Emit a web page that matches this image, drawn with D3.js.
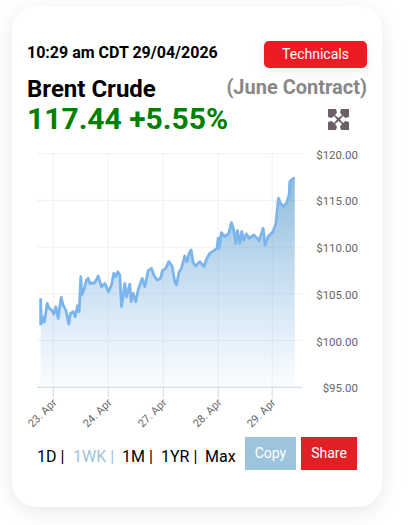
<!DOCTYPE html>
<html><head><meta charset="utf-8">
<script src="https://cdn.jsdelivr.net/npm/d3@7/dist/d3.min.js"></script>
<style>html,body{margin:0;padding:0;background:#fff;overflow:hidden}svg{display:block}text{font-family:Roboto,sans-serif}</style>
</head><body><svg id="c" width="419" height="525"></svg>
<script>
const days=[-0.23,-0.23,-0.215,-0.185,-0.16,-0.112,-0.075,-0.027,0.009,0.046,0.088,0.143,0.179,0.228,0.282,0.312,0.361,0.397,0.44,0.47,0.50,0.518,0.555,0.603,0.634,0.664,0.755,0.815,0.876,0.937,1.003,1.058,1.10,1.136,1.173,1.209,1.24,1.30,1.33,1.391,1.415,1.452,1.50,1.542,1.615,1.664,1.724,1.785,1.827,1.888,1.949,1.984,2.045,2.10,2.16,2.209,2.239,2.287,2.33,2.39,2.433,2.469,2.506,2.542,2.59,2.663,2.742,2.784,2.845,2.936,2.978,2.997,3.015,3.057,3.118,3.19,3.239,3.281,3.318,3.348,3.39,3.427,3.463,3.512,3.56,3.651,3.742,3.815,3.851,3.906,3.996,4.045,4.093,4.13,4.178,4.239,4.287,4.30,4.348,4.39];
const prices=[101.65,104.40,101.83,102.55,102.01,103.98,103.44,103.26,102.83,103.62,102.37,104.62,103.80,103.26,101.76,102.90,103.08,102.55,103.73,103.08,106.84,104.87,105.41,106.48,106.66,106.12,106.19,106.91,105.77,106.12,105.23,105.94,107.20,106.84,107.37,107.02,103.62,106.12,104.69,106.05,104.16,105.05,104.16,105.41,106.66,105.77,107.48,107.73,107.02,106.48,106.66,107.48,107.73,108.45,107.98,106.30,105.94,107.37,107.73,109.06,108.45,109.34,109.70,108.34,107.98,108.45,107.91,108.70,109.34,109.70,109.88,110.95,109.88,111.56,111.13,111.49,112.63,111.85,110.41,111.77,110.41,111.67,110.77,111.42,110.95,111.31,110.70,112.02,110.23,111.13,111.67,112.49,115.24,114.71,114.35,114.71,115.60,117.03,117.28,117.44];
const tickDays=[0,1,2,3,3.98];
const tickLabels=["23. Apr","24. Apr","27. Apr","28. Apr","29. Apr"];
const yTicks=[95,100,105,110,115,120];
const ranges=[["1D |",37,"#000"],["1WK |",73,"#9cc4dc"],["1M |",122,"#000"],["1YR |",161,"#000"],["Max",205,"#000"]];

const svg=d3.select("#c");
const defs=svg.append("defs");
const sh=defs.append("filter").attr("id","sh").attr("x","-20%").attr("y","-20%").attr("width","140%").attr("height","140%");
sh.append("feDropShadow").attr("dx",0).attr("dy",5).attr("stdDeviation",10).attr("flood-color","#000").attr("flood-opacity",0.09);
const btn=defs.append("filter").attr("id","btn").attr("x","-30%").attr("y","-50%").attr("width","160%").attr("height","200%");
btn.append("feDropShadow").attr("dx",0).attr("dy",3).attr("stdDeviation",6).attr("flood-color","#000").attr("flood-opacity",0.08);
const g=defs.append("linearGradient").attr("id","ag").attr("gradientUnits","userSpaceOnUse").attr("x1",0).attr("x2",0).attr("y1",176).attr("y2",387);
g.append("stop").attr("offset",0).attr("stop-color","#5f9fca").attr("stop-opacity",0.72);
g.append("stop").attr("offset",1).attr("stop-color","#7cb5ec").attr("stop-opacity",0.03);

svg.append("rect").attr("x",12).attr("y",6).attr("width",370).attr("height",501).attr("rx",25).attr("fill","#fff").attr("filter","url(#sh)");

const x=d3.scaleLinear().domain([0,1]).range([53.3,108.3]);
const y=d3.scaleLinear().domain([95,120]).range([387.3,153.7]);
const chart=svg.append("g");
chart.selectAll("line.h").data(yTicks).join("line").attr("x1",37).attr("x2",302).attr("y1",d=>y(d)).attr("y2",d=>y(d)).attr("stroke","#f1f1f1");
chart.selectAll("line.v").data(tickDays).join("line").attr("x1",d=>x(d)).attr("x2",d=>x(d)).attr("y1",153.7).attr("y2",387.3).attr("stroke","#f1f1f1");
const pts=days.map((d,i)=>[d,prices[i]]);
chart.append("path").datum(pts).attr("fill","url(#ag)").attr("d",d3.area().x(d=>x(d[0])).y0(y(95)).y1(d=>y(d[1])));
chart.append("path").datum(pts).attr("fill","none").attr("stroke","#7cb5ec").attr("stroke-width",2.8).attr("stroke-linejoin","round").attr("d",d3.line().x(d=>x(d[0])).y(d=>y(d[1])));
chart.append("line").attr("x1",37).attr("x2",302).attr("y1",y(95)).attr("y2",y(95)).attr("stroke","#ccd6eb");
chart.selectAll("line.t").data(tickDays).join("line").attr("x1",d=>x(d)).attr("x2",d=>x(d)).attr("y1",y(95)).attr("y2",y(95)+10).attr("stroke","#ccd6eb");
chart.selectAll("text.x").data(tickDays).join("text").attr("text-anchor","end").attr("font-size",11).attr("fill","#666")
 .attr("transform",d=>`translate(${x(d)+4},${y(95)+16}) rotate(-45)`).text((d,i)=>tickLabels[i]);
chart.selectAll("text.y").data(yTicks).join("text").attr("x",358).attr("y",d=>y(d)+5).attr("text-anchor","end").attr("font-size",11.5).attr("fill","#666").text(d=>"$"+d3.format(".2f")(d));

svg.append("text").attr("x",27).attr("y",58).attr("font-size",16).attr("font-weight",700).attr("fill","#000").text("10:29 am CDT 29/04/2026");
svg.append("rect").attr("x",264).attr("y",41).attr("width",103).attr("height",27).attr("rx",5).attr("fill","#ed1c24").attr("filter","url(#btn)");
svg.append("text").attr("x",315.5).attr("y",59).attr("text-anchor","middle").attr("font-size",14).attr("fill","#fff").text("Technicals");
svg.append("text").attr("x",27).attr("y",97).attr("font-size",24).attr("font-weight",700).attr("fill","#000").text("Brent Crude");
svg.append("text").attr("x",367).attr("y",94).attr("text-anchor","end").attr("font-size",20).attr("font-weight",700).attr("fill","#888").text("(June Contract)");
svg.append("text").attr("x",27).attr("y",129).attr("font-size",30).attr("font-weight",700).attr("fill","#008000").text("117.44 +5.55%");

const icon=svg.append("g").attr("transform","translate(328,109)").attr("fill","#6b5f68");
icon.append("rect").attr("width",21).attr("height",21);
icon.append("path").attr("fill","#fff").attr("d","M8 0H13L12 3.5L14 6L10.5 9L7 6L9 3.5ZM8 21H13L12 17.5L14 15L10.5 12L7 15L9 17.5ZM0 8V13L3.5 12L6 14L9 10.5L6 7L3.5 9ZM21 8V13L17.5 12L15 14L12 10.5L15 7L17.5 9Z");

svg.selectAll("text.r").data(ranges).join("text").attr("x",d=>d[1]).attr("y",462).attr("font-size",16).attr("fill",d=>d[2]).text(d=>d[0]);
svg.append("rect").attr("x",245).attr("y",437).attr("width",51).attr("height",33).attr("fill","#9cc4dc");
svg.append("text").attr("x",270.5).attr("y",458).attr("text-anchor","middle").attr("font-size",14).attr("fill","#fff").text("Copy");
svg.append("rect").attr("x",301).attr("y",437).attr("width",56).attr("height",33).attr("fill","#e02024");
svg.append("text").attr("x",329).attr("y",458).attr("text-anchor","middle").attr("font-size",14).attr("fill","#fff").text("Share");
</script></body></html>
